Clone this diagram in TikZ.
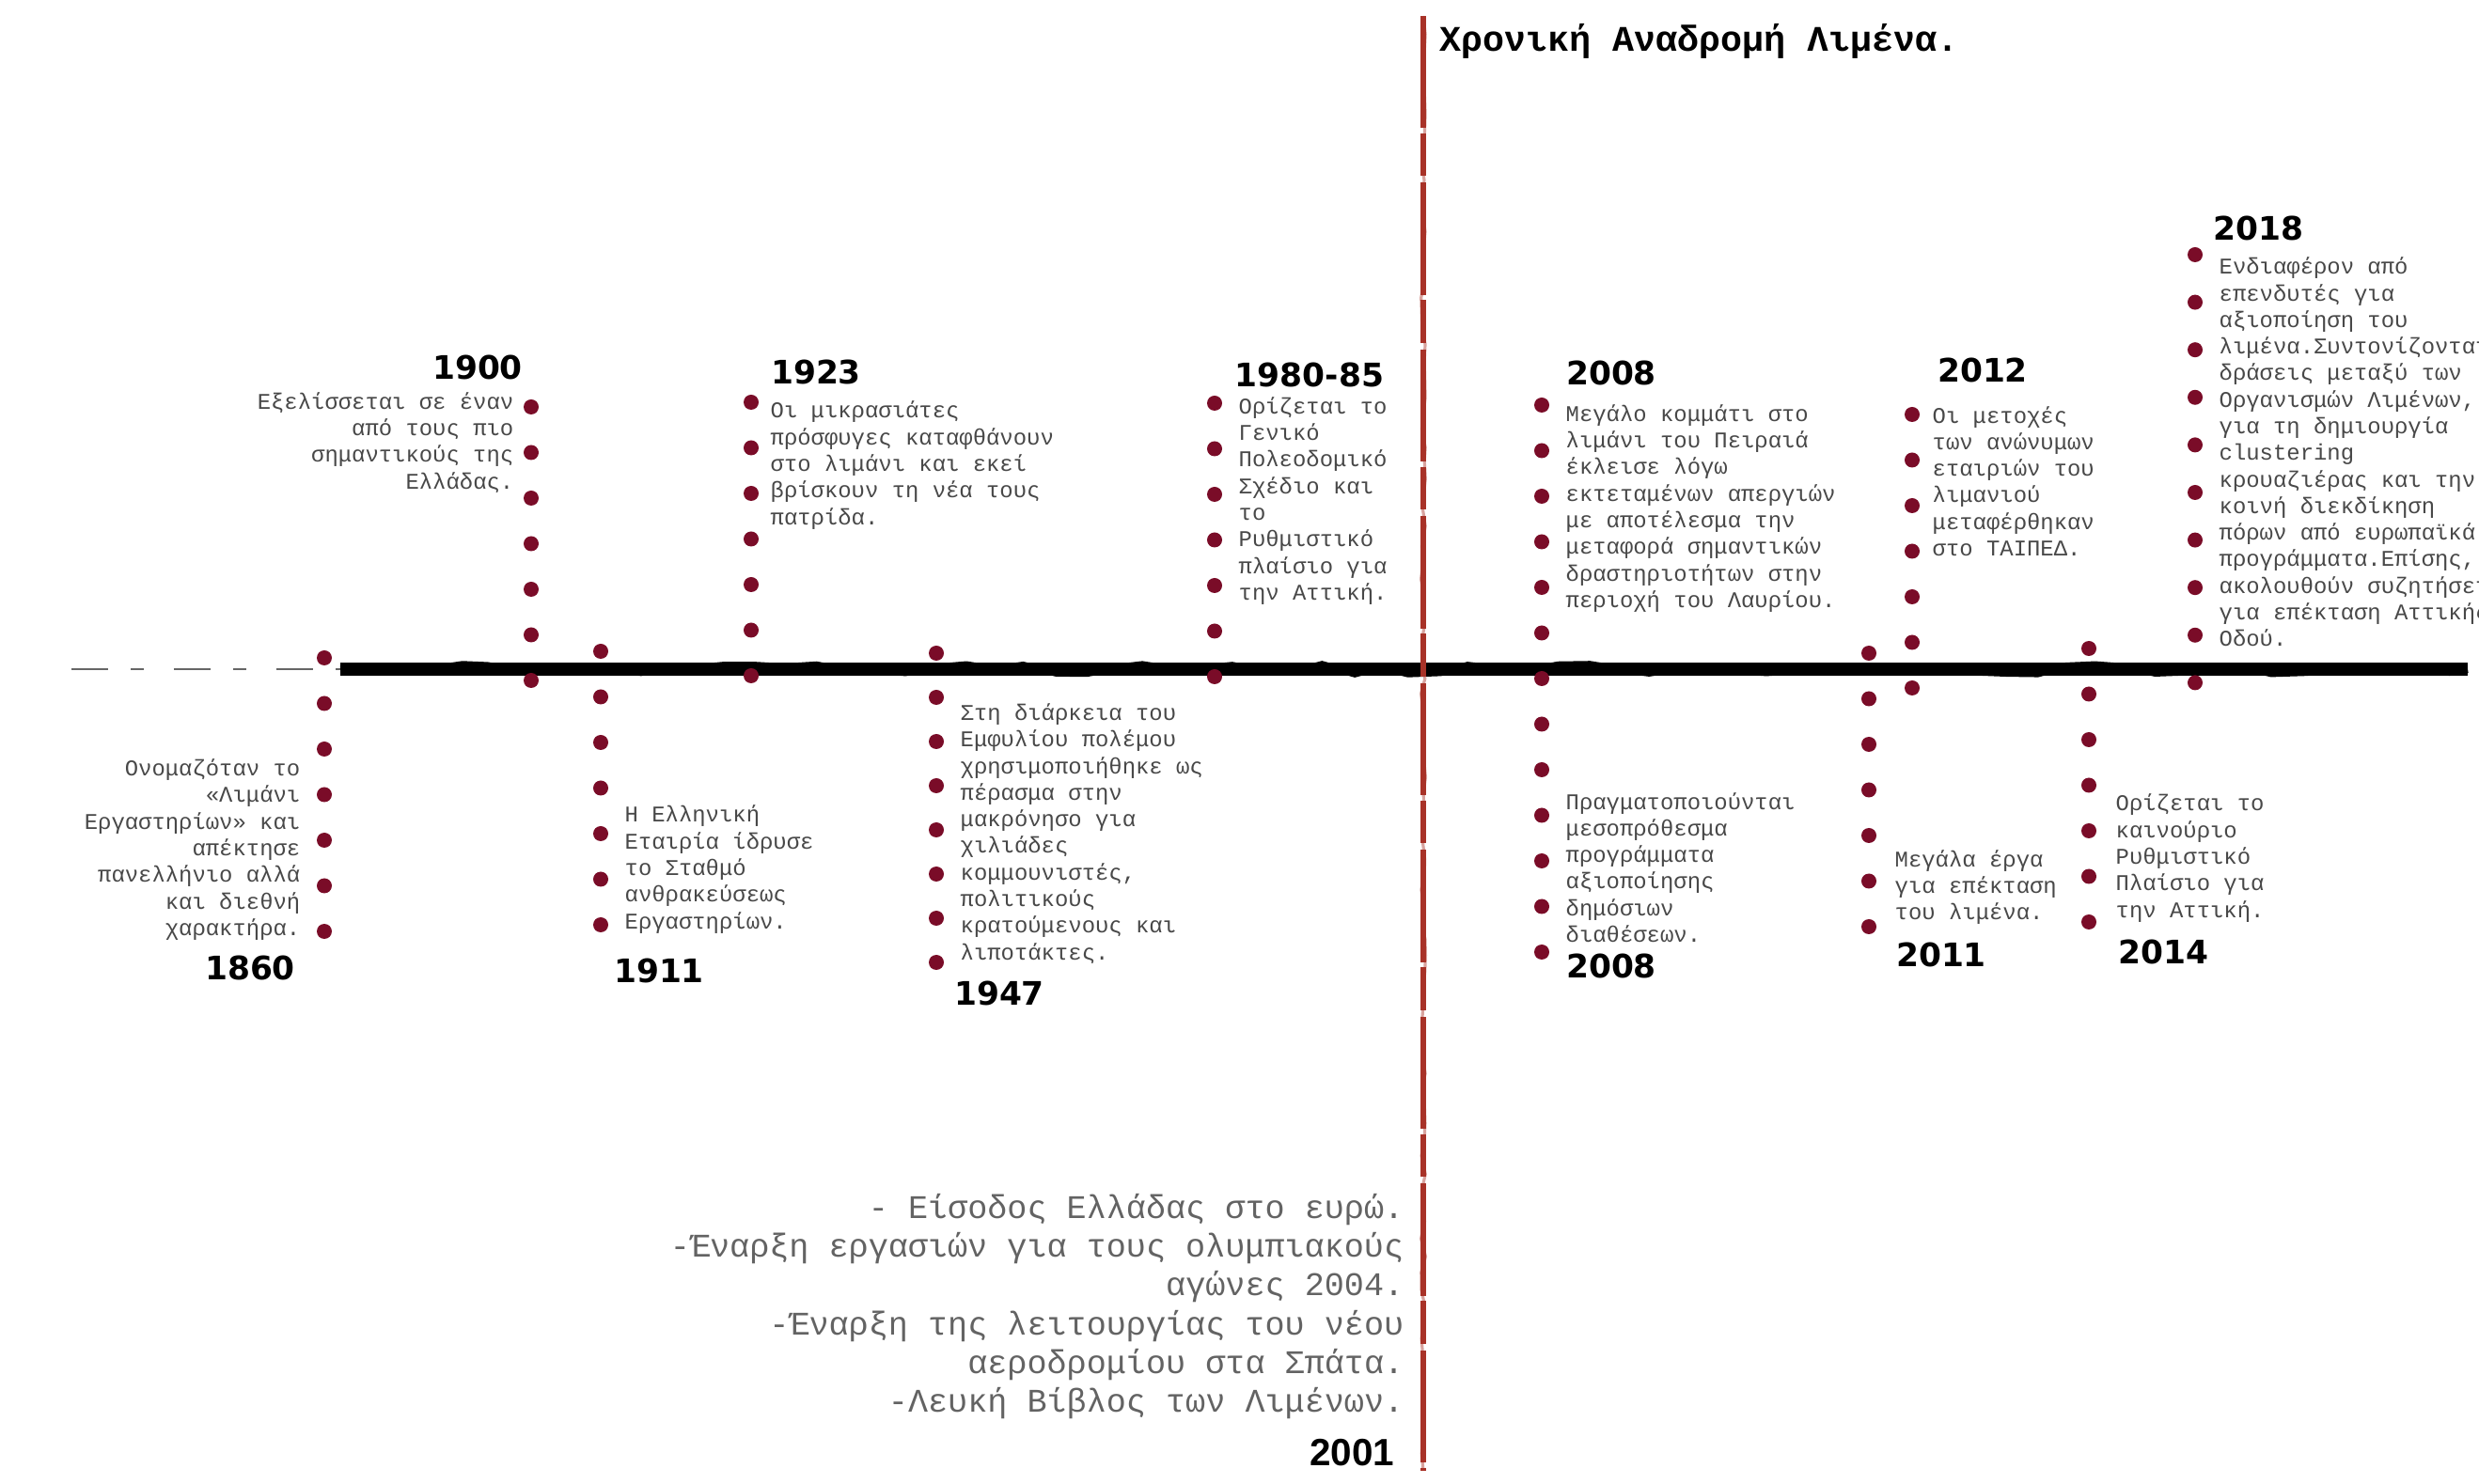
\documentclass[tikz,border=0pt]{standalone}
\usepackage{fontspec}
\setmainfont{Liberation Mono}
\newfontfamily\yearfont{DejaVu Sans}
\newfontfamily\narrowyear{Liberation Sans}
\usepackage{xcolor}
\usepackage{tikz}
\usetikzlibrary{decorations.pathmorphing}

\definecolor{dotred}{RGB}{122,12,40}
\definecolor{axisred}{RGB}{168,50,40}
\definecolor{evtgray}{RGB}{72,72,72}

\tikzset{
  evt/.style={font=\fontsize{6.8}{8.05}\selectfont, text=evtgray, inner sep=0pt},
  evtleft/.style={evt, align=left, anchor=west},
  evtright/.style={evt, align=right, anchor=east},
  yearlbl/.style={font=\yearfont\bfseries\fontsize{9.8}{11}\selectfont, inner sep=0pt},
  bead/.style={fill=dotred}
}

\begin{document}
\begin{tikzpicture}
      \useasboundingbox (0,0) rectangle (26.37,15.78);
      \pgfmathsetseed{7}

      \coordinate (tlstart) at (0.76,8.66);
      \coordinate (tlbrush) at (3.62,8.66);
      \coordinate (tlend) at (26.25,8.66);
      \coordinate (axtop) at (15.14,15.61);
      \coordinate (axbot) at (15.14,0.13);

      \draw [gray!80!black, line width=0.8pt, dash pattern=on 11pt off 7pt on 4pt off 9pt] (tlstart) -- (tlbrush);
      \draw [line width=4.2pt] (tlbrush) -- (tlend);
      \draw [line width=2.2pt, decorate, decoration={random steps, segment length=9pt, amplitude=1.4pt}] (tlbrush) -- (tlend);

      \draw [axisred, line width=1.6pt, dash pattern=on 34pt off 1.5pt on 13pt off 2pt] (axtop) -- (axbot);
      \draw [axisred, opacity=0.45, line width=0.9pt, decorate, decoration={random steps, segment length=5pt, amplitude=0.7pt}] (axtop) -- (axbot);

      \foreach \k in {0,...,6} \fill [bead] (3.45,{8.78-\k*0.485}) circle (0.08);
      \foreach \k in {0,...,6} \fill [bead] (5.65,{11.45-\k*0.485}) circle (0.08);
      \foreach \k in {0,...,6} \fill [bead] (6.39,{8.85-\k*0.485}) circle (0.08);
      \foreach \k in {0,...,6} \fill [bead] (7.99,{11.50-\k*0.485}) circle (0.08);
      \foreach \k in {0,...,7} \fill [bead] (9.96,{8.83-\k*0.47}) circle (0.08);
      \foreach \k in {0,...,6} \fill [bead] (12.92,{11.49-\k*0.485}) circle (0.08);
      \foreach \k in {0,...,12} \fill [bead] (16.40,{11.47-\k*0.485}) circle (0.08);
      \foreach \k in {0,...,6} \fill [bead] (19.88,{8.83-\k*0.485}) circle (0.08);
      \foreach \k in {0,...,6} \fill [bead] (20.34,{11.37-\k*0.485}) circle (0.08);
      \foreach \k in {0,...,6} \fill [bead] (22.22,{8.88-\k*0.485}) circle (0.08);
      \foreach \k in {0,...,9} \fill [bead] (23.35,{13.07-\k*0.506}) circle (0.08);

      \node [font=\bfseries\fontsize{10.9}{13}\selectfont, anchor=west, inner sep=0pt] (title) at (15.31,15.34) {Χρονική Αναδρομή Λιμένα.};

      \node [yearlbl] (y1860) at (2.66,5.48) {1860};
      \node [evtright] (t1860) at (3.20,6.74) {Ονομαζόταν το\\«Λιμάνι\\Εργαστηρίων» και\\απέκτησε\\πανελλήνιο αλλά\\και διεθνή\\χαρακτήρα.};

      \node [yearlbl] (y1900) at (5.08,11.87) {1900};
      \node [evtright] (t1900) at (5.47,11.07) {Εξελίσσεται σε έναν\\από τους πιο\\σημαντικούς της\\Ελλάδας.};

      \node [yearlbl] (y1911) at (7.01,5.45) {1911};
      \node [evtleft] (t1911) at (6.64,6.53) {Η Ελληνική\\Εταιρία ίδρυσε\\το Σταθμό\\ανθρακεύσεως\\Εργαστηρίων.};

      \node [yearlbl] (y1923) at (8.68,11.82) {1923};
      \node [evtleft] (t1923) at (8.19,10.83) {Οι μικρασιάτες\\πρόσφυγες καταφθάνουν\\στο λιμάνι και εκεί\\βρίσκουν τη νέα τους\\πατρίδα.};

      \node [yearlbl] (y1947) at (10.63,5.21) {1947};
      \node [evtleft] (t1947) at (10.21,6.91) {Στη διάρκεια του\\Εμφυλίου πολέμου\\χρησιμοποιήθηκε ως\\πέρασμα στην\\μακρόνησο για\\χιλιάδες\\κομμουνιστές,\\πολιτικούς\\κρατούμενους και\\λιποτάκτες.};

      \node [yearlbl] (y1980) at (13.93,11.79) {1980-85};
      \node [evtleft] (t1980) at (13.17,10.45) {Ορίζεται το\\Γενικό\\Πολεοδομικό\\Σχέδιο και\\το\\Ρυθμιστικό\\πλαίσιο για\\την Αττική.};

      \node [yearlbl] (y2008a) at (17.14,11.81) {2008};
      \node [evtleft] (t2008a) at (16.65,10.37) {Μεγάλο κομμάτι στο\\λιμάνι του Πειραιά\\έκλεισε λόγω\\εκτεταμένων απεργιών\\με αποτέλεσμα την\\μεταφορά σημαντικών\\δραστηριοτήτων στην\\περιοχή του Λαυρίου.};

      \node [yearlbl] (y2008b) at (17.14,5.50) {2008};
      \node [evtleft] (t2008b) at (16.65,6.55) {Πραγματοποιούνται\\μεσοπρόθεσμα\\προγράμματα\\αξιοποίησης\\δημόσιων\\διαθέσεων.};

      \node [yearlbl] (y2011) at (20.65,5.62) {2011};
      \node [evtleft] (t2011) at (20.15,6.34) {Μεγάλα έργα\\για επέκταση\\του λιμένα.};

      \node [yearlbl] (y2012) at (21.09,11.84) {2012};
      \node [evtleft] (t2012) at (20.55,10.66) {Οι μετοχές\\των ανώνυμων\\εταιριών του\\λιμανιού\\μεταφέρθηκαν\\στο ΤΑΙΠΕΔ.};

      \node [yearlbl] (y2014) at (23.01,5.65) {2014};
      \node [evtleft] (t2014) at (22.50,6.65) {Ορίζεται το\\καινούριο\\Ρυθμιστικό\\Πλαίσιο για\\την Αττική.};

      \node [yearlbl] (y2018) at (24.02,13.35) {2018};
      \node [evtleft] (t2018) at (23.60,10.97) {Ενδιαφέρον από\\επενδυτές για\\αξιοποίηση του\\λιμένα.Συντονίζονται\\δράσεις μεταξύ των\\Οργανισμών Λιμένων,\\για τη δημιουργία\\clustering\\κρουαζιέρας και την\\κοινή διεκδίκηση\\πόρων από ευρωπαϊκά\\προγράμματα.Επίσης,\\ακολουθούν συζητήσεις\\για επέκταση Αττικής\\Οδού.};

      \node [evt, font=\fontsize{10}{11.77}\selectfont, text=evtgray!85, align=right, anchor=east] (t2001) at (14.94,1.88) {- Είσοδος Ελλάδας στο ευρώ.\\-Έναρξη εργασιών για τους ολυμπιακούς\\αγώνες 2004.\\-Έναρξη της λειτουργίας του νέου\\αεροδρομίου στα Σπάτα.\\-Λευκή Βίβλος των Λιμένων.};
      \node [font=\narrowyear\bfseries\fontsize{11.5}{13}\selectfont, inner sep=0pt, anchor=east] (y2001) at (14.84,0.32) {2001};
    \end{tikzpicture}
\end{document}
